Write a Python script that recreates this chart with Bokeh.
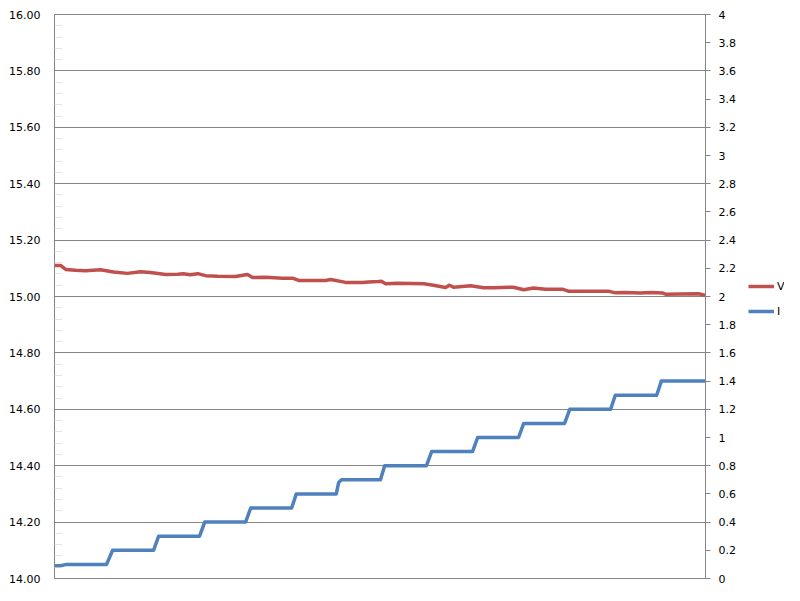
from bokeh.plotting import figure
from bokeh.layouts import row
from bokeh.models import (Range1d, LinearAxis, FixedTicker, Legend, LegendItem)
from bokeh.embed import file_html
from bokeh.resources import INLINE

# ---- data ----
t_v = [0, 1.3, 2.4, 4.5, 6.7, 9.9, 12.7, 15.7, 18.5, 20.6, 23.9, 26.5, 27.7, 29.2,
       30.8, 32.5, 35.1, 38.9, 41.5, 42.6, 45.4, 49.0, 51.2, 52.5, 58.3, 59.4, 62.6,
       66.2, 67.5, 69.7, 70.3, 71.2, 73.8, 79.4, 81.5, 84.1, 84.9, 85.8, 89.5, 92.3,
       94.4, 98.7, 100.9, 103.0, 105.6, 109.2, 110.5, 119.1, 120.6, 122.8, 126.0,
       128.2, 130.8, 131.4, 134.6, 138.5, 140]
v_vals = [15.110, 15.110, 15.096, 15.093, 15.091, 15.095, 15.087, 15.082, 15.088,
          15.085, 15.078, 15.079, 15.081, 15.077, 15.081, 15.074, 15.072, 15.071,
          15.078, 15.067, 15.068, 15.065, 15.065, 15.057, 15.057, 15.060, 15.050,
          15.050, 15.051, 15.053, 15.054, 15.045, 15.047, 15.045, 15.040, 15.032,
          15.040, 15.033, 15.038, 15.031, 15.031, 15.033, 15.024, 15.030, 15.026,
          15.026, 15.019, 15.019, 15.013, 15.014, 15.012, 15.014, 15.012, 15.008,
          15.009, 15.010, 15.004]

t_i = [0, 1.3, 2.6, 11.2, 12.5, 21.3, 22.4, 31.2, 32.3, 41.1, 42.2, 51.0, 52.0,
       60.6, 61.1, 61.7, 70.1, 71.0, 80.0, 81.1, 89.9, 91.0, 99.8, 100.9, 109.7,
       110.8, 119.6, 120.6, 129.5, 130.5, 140]
i_vals = [0.09, 0.09, 0.10, 0.10, 0.20, 0.20, 0.30, 0.30, 0.40, 0.40, 0.50, 0.50,
          0.60, 0.60, 0.68, 0.70, 0.70, 0.80, 0.80, 0.90, 0.90, 1.00, 1.00, 1.10,
          1.10, 1.20, 1.20, 1.30, 1.30, 1.40, 1.40]

left_ticks = [14.0, 14.2, 14.4, 14.6, 14.8, 15.0, 15.2, 15.4, 15.6, 15.8, 16.0]
left_labels = ["14.00", "14.20", "14.40", "14.60", "14.80", "15.00", "15.20",
               "15.40", "15.60", "15.80", "16.00"]
left_minor = [14.04, 14.08, 14.12, 14.16, 14.24, 14.28, 14.32, 14.36, 14.44, 14.48,
              14.52, 14.56, 14.64, 14.68, 14.72, 14.76, 14.84, 14.88, 14.92, 14.96,
              15.04, 15.08, 15.12, 15.16, 15.24, 15.28, 15.32, 15.36, 15.44, 15.48,
              15.52, 15.56, 15.64, 15.68, 15.72, 15.76, 15.84, 15.88, 15.92, 15.96]
right_ticks = [0, 0.2, 0.4, 0.6, 0.8, 1.0, 1.2, 1.4, 1.6, 1.8, 2.0, 2.2, 2.4, 2.6,
               2.8, 3.0, 3.2, 3.4, 3.6, 3.8, 4.0]
right_labels = ["0", "0.2", "0.4", "0.6", "0.8", "1", "1.2", "1.4", "1.6", "1.8",
                "2", "2.2", "2.4", "2.6", "2.8", "3", "3.2", "3.4", "3.6", "3.8", "4"]
series_names = ["V", "I"]

RED = "#C0504D"
BLUE = "#4F81BD"
GRID = "#868686"
FONT = "DejaVu Sans"

p = figure(width=740, height=585, output_backend="svg",
           toolbar_location=None,
           x_range=Range1d(0, 140), y_range=Range1d(14, 16),
           min_border_left=54, min_border_right=35, min_border_top=14,
           min_border_bottom=7)
p.background_fill_color = "white"
p.border_fill_color = "white"
p.outline_line_color = GRID
p.outline_line_width = 1
p.xaxis.visible = False
p.xgrid.visible = False

p.extra_y_ranges = {"I": Range1d(0, 4)}

# left axis
ya = p.yaxis[0]
ya.ticker = FixedTicker(ticks=left_ticks, minor_ticks=left_minor)
ya.major_label_overrides = {t: l for t, l in zip(left_ticks, left_labels)}
ya.major_tick_in = 0
ya.major_tick_out = 0
ya.minor_tick_in = 8
ya.minor_tick_out = 0
ya.minor_tick_line_color = "#c8c8c8"
ya.minor_tick_line_dash = "1 1"
ya.axis_line_color = GRID
ya.major_label_standoff = 14
ya.major_label_text_font = FONT
ya.major_label_text_font_size = "11px"
ya.major_label_text_color = "#000000"

p.ygrid.grid_line_color = GRID
p.ygrid.grid_line_width = 1

# right axis
ra = LinearAxis(y_range_name="I",
                ticker=FixedTicker(ticks=right_ticks, minor_ticks=[]))
ra.major_label_overrides = {t: l for t, l in zip(right_ticks, right_labels)}
ra.axis_line_color = GRID
ra.major_tick_line_color = GRID
ra.major_tick_in = 0
ra.major_tick_out = 5
ra.minor_tick_in = 0
ra.minor_tick_out = 0
ra.major_label_standoff = 8
ra.major_label_text_font = FONT
ra.major_label_text_font_size = "11px"
ra.major_label_text_color = "#000000"
p.add_layout(ra, "right")

p.line(t_v, v_vals, line_color=RED, line_width=3.5, line_join="round")
p.line(t_i, i_vals, line_color=BLUE, line_width=3.5, y_range_name="I",
       line_join="round")

# legend strip to the right of the chart (same series, kept outside its view)
q = figure(width=44, height=585, output_backend="svg", toolbar_location=None,
           x_range=Range1d(-1000, -900), y_range=Range1d(0, 1),
           x_axis_location=None, y_axis_location=None,
           min_border_left=0, min_border_right=0, min_border_top=0,
           min_border_bottom=0)
q.grid.visible = False
q.outline_line_color = None
q.background_fill_color = "white"
q.border_fill_color = "white"
lv = q.line(t_v, v_vals, line_color=RED, line_width=3.5)
li = q.line(t_i, i_vals, line_color=BLUE, line_width=3.5)

legend = Legend(items=[LegendItem(label=series_names[0], renderers=[lv]),
                       LegendItem(label=series_names[1], renderers=[li])],
                location=(8, 257), padding=0, margin=0, spacing=5,
                glyph_width=26, glyph_height=20, label_height=20,
                label_standoff=3, label_text_font=FONT,
                label_text_font_size="11px", label_text_color="#000000",
                border_line_color=None, background_fill_alpha=0)
q.add_layout(legend, "center")

open("out.html", "w").write(file_html(row(p, q), INLINE))
